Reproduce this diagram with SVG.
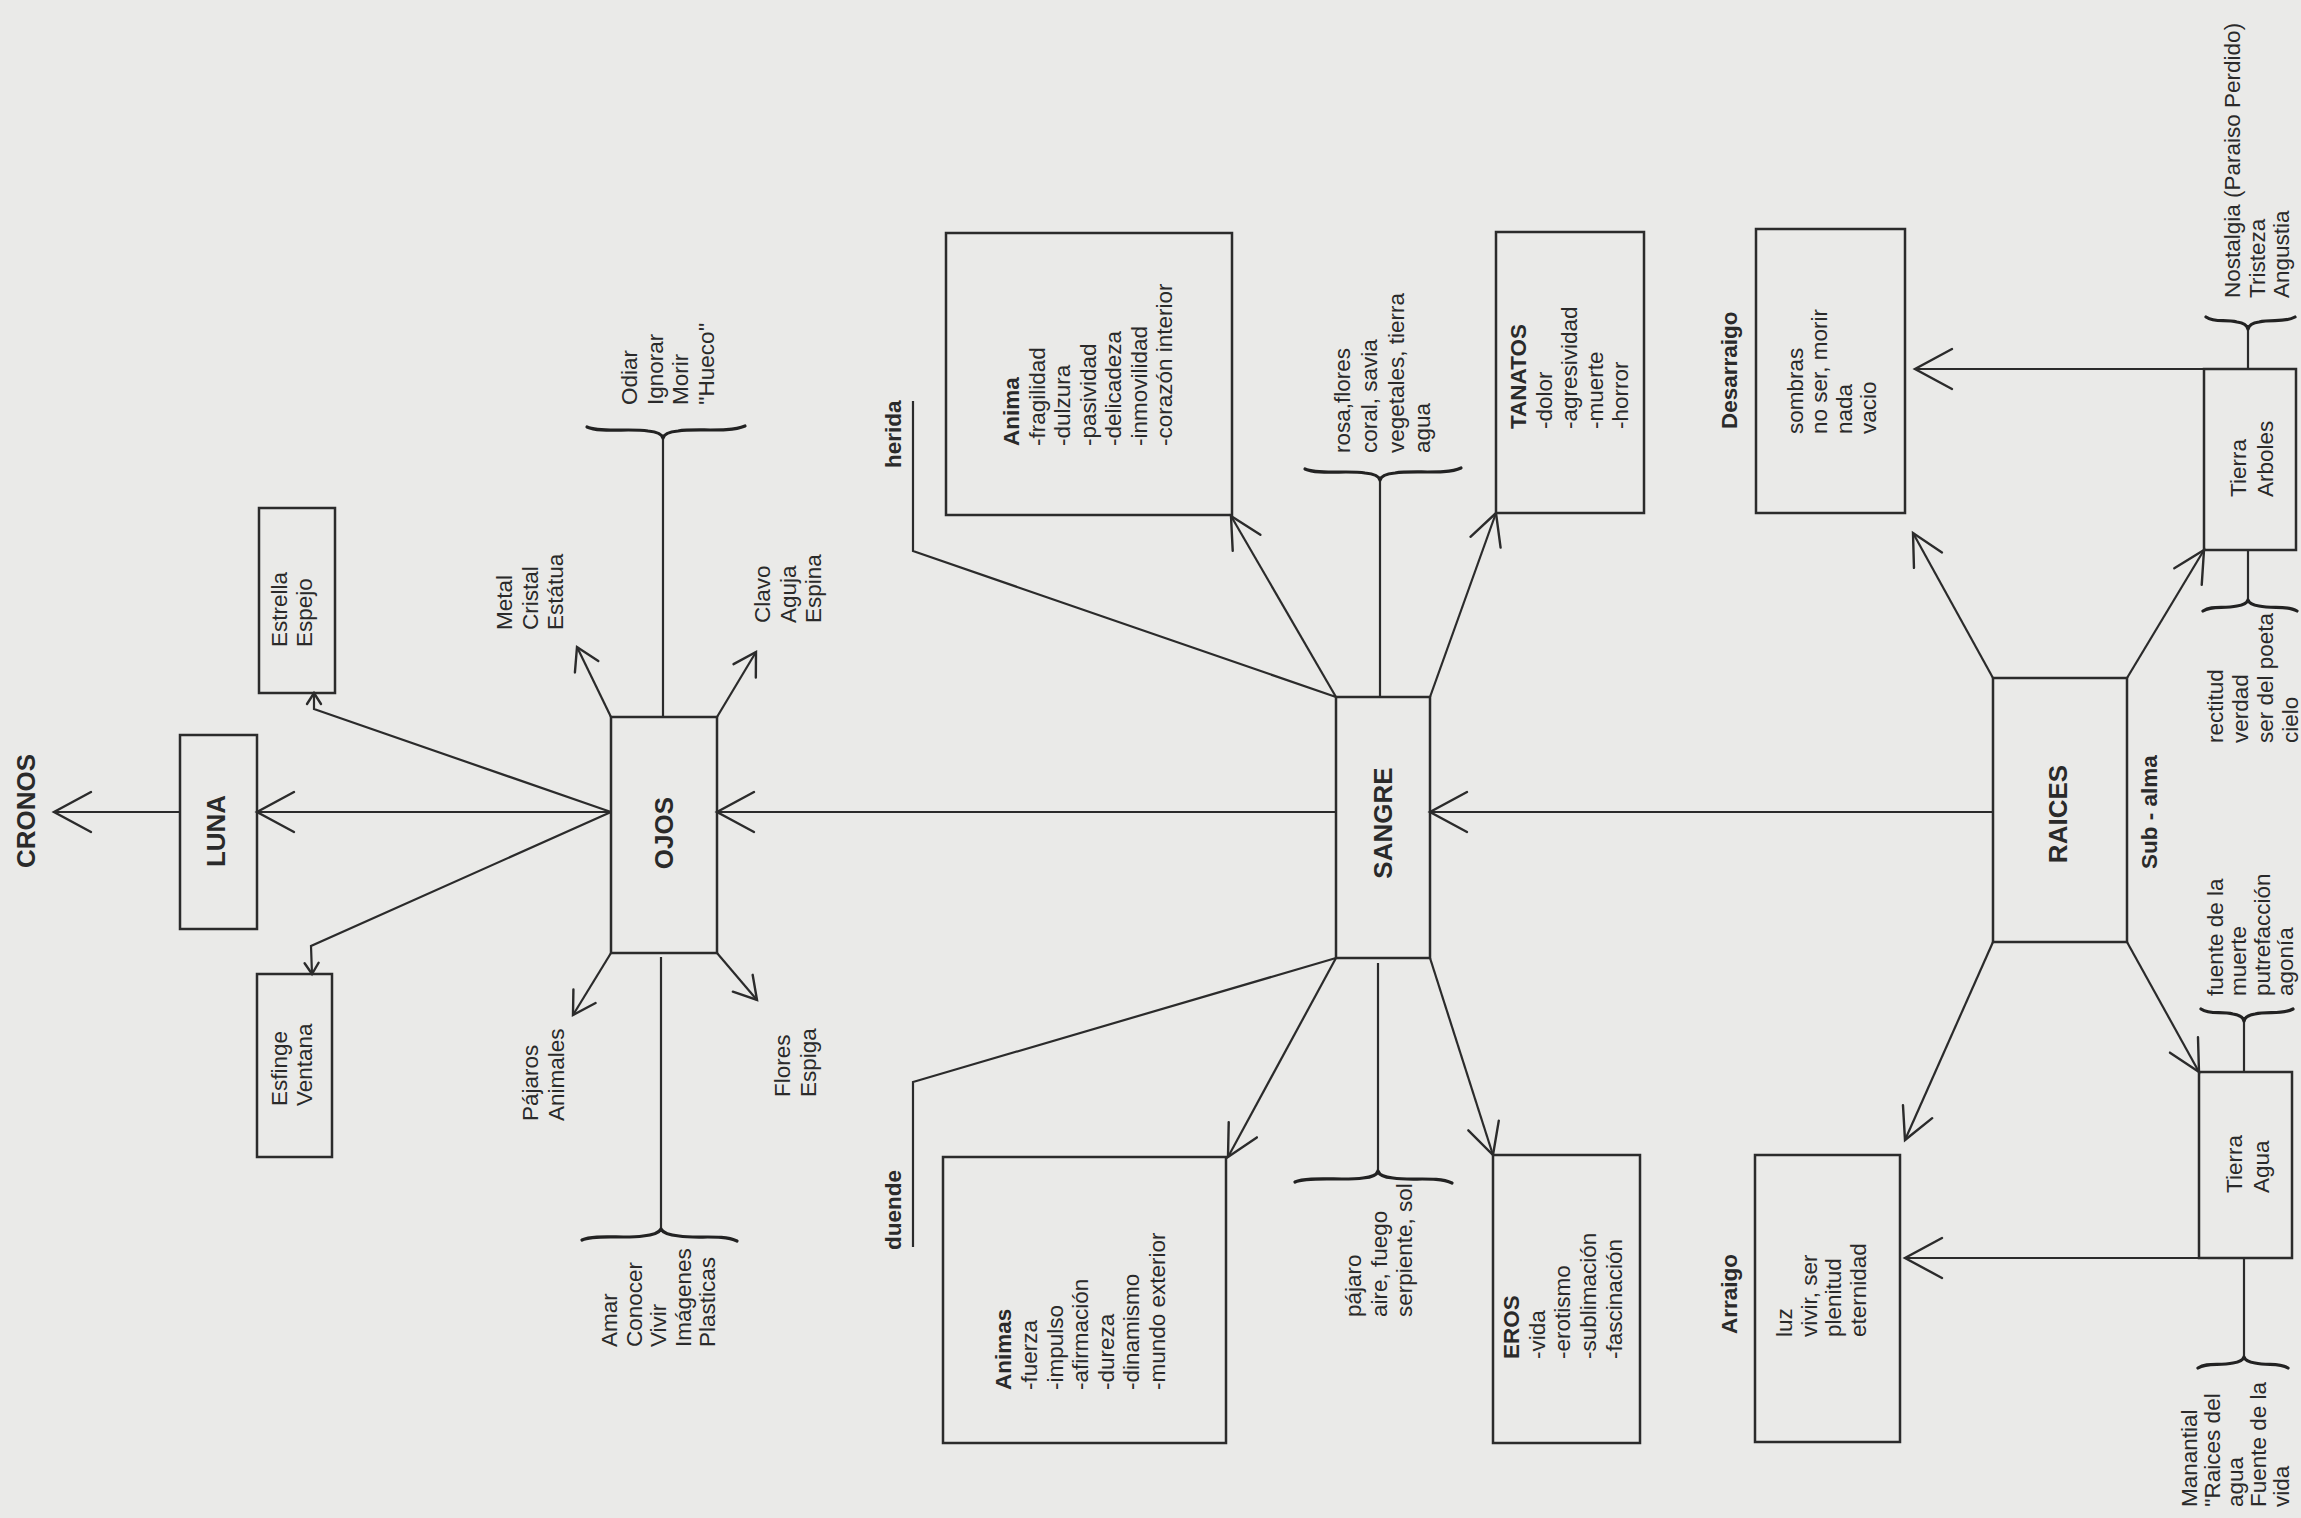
<svg xmlns="http://www.w3.org/2000/svg" width="2301" height="1518" viewBox="0 0 2301 1518">
<style>
.bg{fill:#eaeae8}
.box{fill:none;stroke:#2b2b2b;stroke-width:2.5}
.ln{fill:none;stroke:#2b2b2b;stroke-width:2.2}
.br{fill:none;stroke:#222;stroke-width:3.2;stroke-linecap:round;stroke-linejoin:round}
.mk{fill:none;stroke:#2b2b2b;stroke-width:2.4;stroke-linecap:round;stroke-linejoin:miter}
text{font-family:"Liberation Sans",Arial,Helvetica,sans-serif;fill:#2a2a2a}
.t{font-size:22.5px}
.b{font-size:22.5px;font-weight:bold}
.big{font-size:26px;font-weight:bold;text-anchor:middle}
.hb{font-weight:bold}
</style>
<defs>
<marker id="ah" markerUnits="userSpaceOnUse" markerWidth="60" markerHeight="60" viewBox="-50 -30 60 60" refX="0" refY="0" orient="auto"><path class="mk" d="M-37,-20 L0,0 L-37,20"/></marker>
<marker id="am" markerUnits="userSpaceOnUse" markerWidth="60" markerHeight="60" viewBox="-50 -30 60 60" refX="0" refY="0" orient="auto"><path class="mk" d="M-31,-16 L0,0 L-31,16"/></marker>
<marker id="as" markerUnits="userSpaceOnUse" markerWidth="60" markerHeight="60" viewBox="-50 -30 60 60" refX="0" refY="0" orient="auto"><path class="mk" d="M-22,-13 L0,0 L-22,13"/></marker>
<marker id="at" markerUnits="userSpaceOnUse" markerWidth="60" markerHeight="60" viewBox="-50 -30 60 60" refX="0" refY="0" orient="auto"><path class="mk" d="M-11,-7 L0,0 L-11,7"/></marker>
</defs>
<rect class="bg" x="0" y="0" width="2301" height="1518"/>

<g id="connectors">
<path class="ln" d="M180,812 L54,812" marker-end="url(#ah)"/>
<path class="ln" d="M611,812 L257,812" marker-end="url(#ah)"/>
<path class="ln" d="M1336,812 L717,812" marker-end="url(#ah)"/>
<path class="ln" d="M1993,812 L1430,812" marker-end="url(#ah)"/>
<path class="ln" d="M611,812 L314,709 L314,693" marker-end="url(#at)"/>
<path class="ln" d="M611,812 L311,946 L312,974" marker-end="url(#at)"/>
<path class="ln" d="M611,717 L577,647" marker-end="url(#as)"/>
<path class="ln" d="M717,717 L756,652" marker-end="url(#as)"/>
<path class="ln" d="M611,953 L573,1015" marker-end="url(#as)"/>
<path class="ln" d="M717,953 L757,1000" marker-end="url(#as)"/>
<path class="ln" d="M663,717 L663,437"/>
<path class="ln" d="M661,957 L661,1230"/>
<path class="ln" d="M1336,697 L1231,516" marker-end="url(#am)"/>
<path class="ln" d="M1336,697 L913,551 L913,401"/>
<path class="ln" d="M1380,697 L1380,479"/>
<path class="ln" d="M1430,697 L1496,513" marker-end="url(#am)"/>
<path class="ln" d="M1336,958 L913,1082 L913,1247"/>
<path class="ln" d="M1336,958 L1228,1157" marker-end="url(#am)"/>
<path class="ln" d="M1378,963 L1378,1171"/>
<path class="ln" d="M1430,958 L1493,1155" marker-end="url(#am)"/>
<path class="ln" d="M1993,678 L1913,533" marker-end="url(#am)"/>
<path class="ln" d="M2127,678 L2204,550" marker-end="url(#am)"/>
<path class="ln" d="M1993,942 L1905,1140" marker-end="url(#am)"/>
<path class="ln" d="M2127,942 L2199,1072" marker-end="url(#am)"/>
<path class="ln" d="M2204,369 L1915,369" marker-end="url(#ah)"/>
<path class="ln" d="M2199,1258 L1905,1258" marker-end="url(#ah)"/>
<path class="ln" d="M2248,369 L2248,329"/>
<path class="ln" d="M2248,550 L2248,601"/>
<path class="ln" d="M2244,1072 L2244,1021"/>
<path class="ln" d="M2244,1258 L2244,1357"/>
<!-- braces -->
<path class="br" d="M587,427 C600,433 630,428 648,431 C658,432 662,434 663,438 C664,434 668,432 678,431 C696,428 728,433 745,426"/>
<path class="br" d="M582,1240 C595,1234 625,1239 643,1236 C653,1235 659,1233 661,1229 C663,1233 669,1235 679,1236 C697,1239 722,1234 737,1241"/>
<path class="br" d="M1305,469 C1318,475 1348,470 1365,473 C1375,474 1379,476 1380,480 C1381,476 1385,474 1395,473 C1413,470 1446,475 1461,468"/>
<path class="br" d="M1295,1182 C1308,1176 1345,1181 1363,1178 C1373,1177 1377,1175 1378,1171 C1379,1175 1383,1177 1393,1178 C1411,1181 1437,1176 1452,1183"/>
<path class="br" d="M2206,317 C2215,323 2225,319 2237,322 C2244,323 2247,325 2248,329 C2249,325 2252,323 2259,322 C2272,319 2285,323 2295,317"/>
<path class="br" d="M2203,611 C2212,605 2223,609 2237,606 C2244,605 2247,603 2248,600 C2249,603 2252,605 2259,606 C2273,609 2287,605 2297,611"/>
<path class="br" d="M2201,1009 C2210,1015 2221,1011 2233,1014 C2240,1015 2243,1017 2244,1021 C2245,1017 2248,1015 2255,1014 C2268,1011 2282,1015 2293,1009"/>
<path class="br" d="M2198,1368 C2207,1362 2219,1366 2233,1363 C2240,1362 2243,1360 2244,1357 C2245,1360 2248,1362 2255,1363 C2268,1366 2279,1362 2288,1368"/>
</g>

<g id="cronos"><text class="big" transform="translate(35,811) rotate(-90)">CRONOS</text></g>

<g id="luna"><rect class="box" x="180" y="735" width="77" height="194"/><text class="big" transform="translate(225,831) rotate(-90)">LUNA</text></g>

<g id="estrella"><rect class="box" x="259" y="508" width="76" height="185"/>
<text class="t" transform="translate(287,647) rotate(-90)"><tspan x="0" dy="0">Estrella</tspan><tspan x="0" dy="25">Espejo</tspan></text></g>

<g id="esfinge"><rect class="box" x="257" y="974" width="75" height="183"/>
<text class="t" transform="translate(287,1106) rotate(-90)"><tspan x="0" dy="0">Esfinge</tspan><tspan x="0" dy="25">Ventana</tspan></text></g>

<g id="ojos"><rect class="box" x="611" y="717" width="106" height="236"/><text class="big" transform="translate(673,833) rotate(-90)">OJOS</text></g>

<g id="odiar"><text class="t" transform="translate(637,405) rotate(-90)"><tspan x="0" dy="0">Odiar</tspan><tspan x="0" dy="25.5">Ignorar</tspan><tspan x="0" dy="25.5">Morir</tspan><tspan x="0" dy="25.5">''Hueco''</tspan></text></g>

<g id="metal"><text class="t" transform="translate(512,630) rotate(-90)"><tspan x="0" dy="0">Metal</tspan><tspan x="0" dy="25.5">Cristal</tspan><tspan x="0" dy="25.5">Estátua</tspan></text></g>

<g id="clavo"><text class="t" transform="translate(770,623) rotate(-90)"><tspan x="0" dy="0">Clavo</tspan><tspan x="0" dy="25.5">Aguja</tspan><tspan x="0" dy="25.5">Espina</tspan></text></g>

<g id="pajaros"><text class="t" transform="translate(538,1121) rotate(-90)"><tspan x="0" dy="0">Pájaros</tspan><tspan x="0" dy="25.5">Animales</tspan></text></g>

<g id="flores"><text class="t" transform="translate(790,1097) rotate(-90)"><tspan x="0" dy="0">Flores</tspan><tspan x="0" dy="25.5">Espiga</tspan></text></g>

<g id="amar"><text class="t" transform="translate(617,1347) rotate(-90)"><tspan x="0" dy="0">Amar</tspan><tspan x="0" dy="24.5">Conocer</tspan><tspan x="0" dy="24.5">Vivir</tspan><tspan x="0" dy="24.5">Imágenes</tspan><tspan x="0" dy="24.5">Plasticas</tspan></text></g>

<g id="herida"><text class="b" transform="translate(901,468) rotate(-90)">herida</text></g>
<g id="duende"><text class="b" transform="translate(901,1250) rotate(-90)">duende</text></g>

<g id="anima"><rect class="box" x="946" y="233" width="286" height="282"/>
<text class="t" transform="translate(1019,446) rotate(-90)"><tspan class="hb" x="0" dy="0">Anima</tspan><tspan x="0" dy="25.5">-fragilidad</tspan><tspan x="0" dy="25.5">-dulzura</tspan><tspan x="0" dy="25.5">-pasividad</tspan><tspan x="0" dy="25.5">-delicadeza</tspan><tspan x="0" dy="25.5">-inmovilidad</tspan><tspan x="0" dy="25.5">-corazón interior</tspan></text></g>

<g id="rosa"><text class="t" transform="translate(1350,453) rotate(-90)"><tspan x="0" dy="0">rosa,flores</tspan><tspan x="0" dy="27">coral,  savia</tspan><tspan x="0" dy="27">vegetales,  tierra</tspan><tspan x="0" dy="26">agua</tspan></text></g>

<g id="tanatos"><rect class="box" x="1496" y="232" width="148" height="281"/>
<text class="t" transform="translate(1526,429) rotate(-90)"><tspan class="hb" x="0" dy="0">TANATOS</tspan><tspan x="0" dy="25.5">-dolor</tspan><tspan x="0" dy="25.5">-agresividad</tspan><tspan x="0" dy="25.5">-muerte</tspan><tspan x="0" dy="25.5">-horror</tspan></text></g>

<g id="sangre"><rect class="box" x="1336" y="697" width="94" height="261"/><text class="big" transform="translate(1392,823) rotate(-90)">SANGRE</text></g>

<g id="animas"><rect class="box" x="943" y="1157" width="283" height="286"/>
<text class="t" transform="translate(1011,1390) rotate(-90)"><tspan class="hb" x="0" dy="0">Animas</tspan><tspan x="0" dy="26">-fuerza</tspan><tspan x="0" dy="25.5">-impulso</tspan><tspan x="0" dy="25.5">-afirmación</tspan><tspan x="0" dy="25.5">-dureza</tspan><tspan x="0" dy="25.5">-dinamismo</tspan><tspan x="0" dy="25.5">-mundo exterior</tspan></text></g>

<g id="pajaro"><text class="t" transform="translate(1361,1317) rotate(-90)"><tspan x="0" dy="0">pájaro</tspan><tspan x="0" dy="25.5">aire,  fuego</tspan><tspan x="0" dy="25.5">serpiente, sol</tspan></text></g>

<g id="eros"><rect class="box" x="1493" y="1155" width="147" height="288"/>
<text class="t" transform="translate(1519,1359) rotate(-90)"><tspan class="hb" x="0" dy="0">EROS</tspan><tspan x="0" dy="25.5">-vida</tspan><tspan x="0" dy="25.5">-erotismo</tspan><tspan x="0" dy="25.5">-sublimación</tspan><tspan x="0" dy="26">-fascinación</tspan></text></g>

<g id="desarraigo"><text class="b" transform="translate(1737,429) rotate(-90)">Desarraigo</text>
<rect class="box" x="1756" y="229" width="149" height="284"/>
<text class="t" transform="translate(1803,434) rotate(-90)"><tspan x="0" dy="0">sombras</tspan><tspan x="0" dy="24">no ser, morir</tspan><tspan x="0" dy="24.5">nada</tspan><tspan x="0" dy="24.5">vacio</tspan></text></g>

<g id="arraigo"><text class="b" transform="translate(1737,1334) rotate(-90)">Arraigo</text>
<rect class="box" x="1755" y="1155" width="145" height="287"/>
<text class="t" transform="translate(1792,1337) rotate(-90)"><tspan x="0" dy="0">luz</tspan><tspan x="0" dy="24.5">vivir, ser</tspan><tspan x="0" dy="24.5">plenitud</tspan><tspan x="0" dy="24.5">eternidad</tspan></text></g>

<g id="raices"><rect class="box" x="1993" y="678" width="134" height="264"/><text class="big" transform="translate(2067,814) rotate(-90)">RAICES</text>
<text class="b" text-anchor="middle" transform="translate(2157,812) rotate(-90)">Sub - alma</text></g>

<g id="tierra-arboles"><rect class="box" x="2204" y="369" width="92" height="181"/>
<text class="t" transform="translate(2246,497) rotate(-90)"><tspan x="0" dy="0">Tierra</tspan><tspan x="0" dy="27">Arboles</tspan></text></g>

<g id="nostalgia"><text class="t" transform="translate(2240,298) rotate(-90)"><tspan x="0" dy="0">Nostalgia (Paraiso Perdido)</tspan><tspan x="0" dy="24.5">Tristeza</tspan><tspan x="0" dy="24.5">Angustia</tspan></text></g>

<g id="rectitud"><text class="t" transform="translate(2223,743) rotate(-90)"><tspan x="0" dy="0">rectitud</tspan><tspan x="0" dy="25">verdad</tspan><tspan x="0" dy="25">ser del poeta</tspan><tspan x="0" dy="25">cielo</tspan></text></g>

<g id="tierra-agua"><rect class="box" x="2199" y="1072" width="93" height="186"/>
<text class="t" transform="translate(2242,1193) rotate(-90)"><tspan x="0" dy="0">Tierra</tspan><tspan x="0" dy="27">Agua</tspan></text></g>

<g id="fuente"><text class="t" transform="translate(2223,996) rotate(-90)"><tspan x="0" dy="0">fuente de la</tspan><tspan x="0" dy="23.3">muerte</tspan><tspan x="0" dy="23.3">putrefacción</tspan><tspan x="0" dy="23.3">agonía</tspan></text></g>

<g id="manantial"><text class="t" transform="translate(2197,1507) rotate(-90)"><tspan x="0" dy="0">Manantial</tspan><tspan x="0" dy="23">''Raices del</tspan><tspan x="0" dy="23">agua</tspan><tspan x="0" dy="23">Fuente de la</tspan><tspan x="0" dy="23">vida</tspan></text></g>
</svg>
